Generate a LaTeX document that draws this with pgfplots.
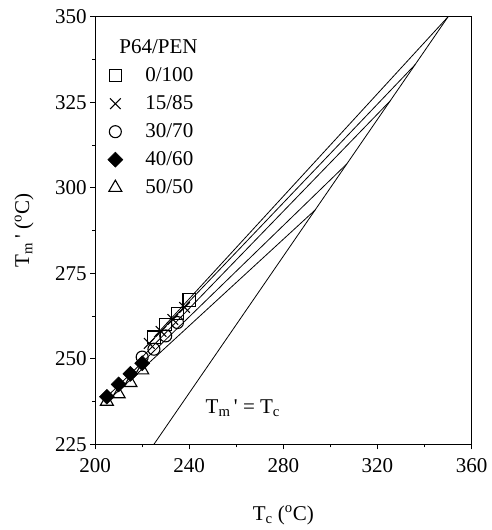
\documentclass[border=0pt]{standalone}
\usepackage{fontspec}
\setmainfont{Liberation Serif}
\usepackage{pgfplots}
\pgfplotsset{compat=1.18}

\newcommand{\bigf}{\fontsize{21bp}{25bp}\selectfont}
\pgfplotsset{
  mylegend/.style={legend image code/.code={%
    \path[draw=none] (0bp,0bp) (50bp,0bp);
    \draw[##1] plot coordinates {(20bp,0bp)};}},
}

\begin{document}
\begin{tikzpicture}
\begin{axis}[
  scale only axis,
  width=376bp, height=427bp,
  xmin=200, xmax=360, ymin=225, ymax=350,
  xtick={200,240,280,320,360},
  ytick={225,250,275,300,325,350},
  minor x tick num=1, minor y tick num=1,
  tick pos=left,
  tick align=outside,
  major tick length=5bp, minor tick length=3bp,
  tick style={line width=0.8pt, black},
  axis line style={line width=1pt},
  /pgf/number format/assume math mode=true,
  tick label style={font=\bigf},
  xticklabel style={yshift=-6bp},
  label style={font=\bigf},
  xlabel={T\textsubscript{c} (\textsuperscript{o}C)},
  ylabel={T\textsubscript{m}\,\textquotesingle\ (\textsuperscript{o}C)},
  xlabel style={at={(rel axis cs:0.5,0)}, anchor=north, yshift=-58bp},
  ylabel style={at={(rel axis cs:-0.175,0.5)}, anchor=base},
  legend style={at={(rel axis cs:0,1)}, anchor=north west, yshift=-23bp,
    draw=none, fill=none, font=\bigf, inner sep=0pt,
    nodes={inner sep=0pt}, row sep=12.5bp},
  legend cell align=left,
]
% legend title
\addlegendimage{empty legend}
\addlegendentry{\hspace*{-26bp}P64/PEN}

% 0/100
\addplot[only marks, mark=square, mark size=6.2bp, mark options={line width=1.1pt}, mylegend]
  coordinates {(225,256.3) (230,260.0) (235,263.2) (240,267.2)};
\addlegendentry{0/100}
% 15/85
\addplot[only marks, mark=x, mark size=7.5bp, mark options={line width=1.1pt}, mylegend]
  coordinates {(223,254.5) (228,258.0) (233,261.5) (238,265.0)};
\addlegendentry{15/85}
% 30/70
\addplot[only marks, mark=o, mark size=6bp, mark options={line width=1.1pt}, mylegend]
  coordinates {(220,250.5) (225,252.8) (230,256.7) (235,260.6)};
\addlegendentry{30/70}
% 40/60
\addplot[only marks, mark=square*, mark size=5.3bp, mark options={rotate=45, line width=0.5pt}, mylegend]
  coordinates {(205,238.9) (210,242.5) (215,245.6) (220,248.7)};
\addlegendentry{40/60}
% 50/50
\addplot[only marks, mark=triangle, mark size=7.5bp, mark options={line width=1.1pt}, mylegend]
  coordinates {(205,237.5) (210,239.7) (215,243.0) (220,246.7)};
\addlegendentry{50/50}

% extrapolations to Tm' = Tc
\addplot[black, line width=0.8pt, forget plot] coordinates {(225,256.3) (350,350)};
\addplot[black, line width=0.8pt, forget plot] coordinates {(223,254.5) (336,336)};
\addplot[black, line width=0.8pt, forget plot] coordinates {(220,250.5) (325.4,325.4)};
\addplot[black, line width=0.8pt, forget plot] coordinates {(205,238.9) (307,307)};
\addplot[black, line width=0.8pt, forget plot] coordinates {(205,237.5) (293.5,293.5)};
% Tm' = Tc
\addplot[black, line width=0.8pt, forget plot] coordinates {(225,225) (350,350)};

\node[font=\bigf, anchor=base west] at (axis cs:245.5,233.9)
  {T\textsubscript{m}\,\textquotesingle\ = T\textsubscript{c}};

\coordinate (bbsw) at (rel axis cs:-0.2527,-0.2005);
\coordinate (bbne) at (rel axis cs:1.0532,1.0393);
\end{axis}
\path (bbsw) rectangle (bbne);
\end{tikzpicture}
\end{document}
